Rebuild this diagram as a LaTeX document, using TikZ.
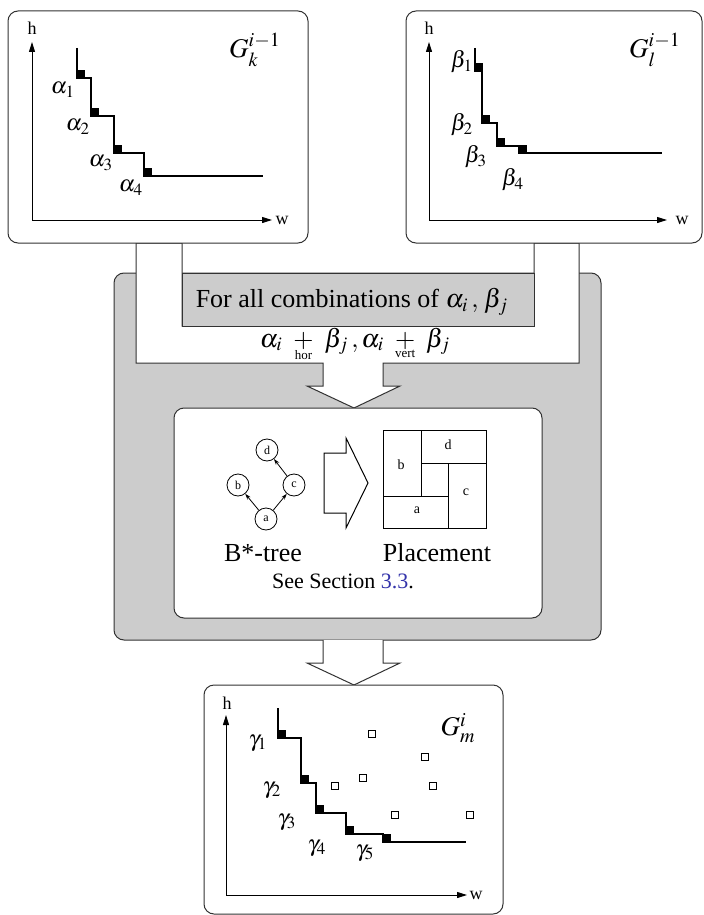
\documentclass[tikz,border=0pt]{standalone}
\usepackage{amsmath}
\usepackage{mathptmx}
\usepackage{fontspec}
\setmainfont{Liberation Serif}
\usetikzlibrary{arrows.meta,positioning}
\definecolor{grisfondo}{RGB}{204,204,204}
\definecolor{linea}{RGB}{50,50,50}
\definecolor{enlace}{RGB}{51,51,170}
\newcommand{\sobre}[1]{\mskip5mu\mathbin{\vtop{\offinterlineskip\halign{\hfil##\hfil\cr$+$\cr\noalign{\kern0.6pt}\fontsize{6.5}{6.5}\selectfont #1\cr}}}\mskip5mu}
\tikzset{
  caja/.style={draw=linea, line width=0.5pt, rounded corners=5pt, fill=white},
  eje/.style={draw=black, line width=0.5pt, -{Triangle[length=5pt,width=3pt]}},
  escalera/.style={draw=black, line width=0.6pt},
  hueco/.style={draw=black, line width=0.4pt, fill=white},
  etiq/.style={font=\fontsize{11.5}{13}\selectfont, inner sep=0pt},
  ejeletra/.style={font=\fontsize{9}{11}\selectfont, inner sep=0pt},
  titulo/.style={font=\fontsize{13.5}{15}\selectfont, inner sep=0pt},
  texto/.style={font=\fontsize{13}{15}\selectfont, inner sep=0pt},
  nodo/.style={circle, draw=black, line width=0.4pt, minimum size=11pt, inner sep=0pt, font=\fontsize{6}{7}\selectfont},
  bloque/.style={draw=black, line width=0.5pt},
  letra/.style={font=\fontsize{7}{8}\selectfont, inner sep=0pt},
}
\begin{document}
\begin{tikzpicture}[x=0.5pt,y=-0.5pt]
\useasboundingbox (0,0) rectangle (703,915);
%Caja gris central
\draw[caja, fill=grisfondo] (114,273) rectangle (601,640);
%Flecha grande
\draw[draw=linea, line width=0.5pt, fill=white] (136,243) -- (136,363) -- (323,363) -- (323,386) -- (307,386)
  -- (354,408) -- (400,386) -- (383,386) -- (383,363) -- (579,363) -- (579,243) -- (534,243)
  -- (534,326) -- (182,326) -- (182,243) -- cycle;
\draw[draw=linea, line width=0.5pt, fill=grisfondo] (182,273) rectangle (534,326);
\node[texto] (comb) at (352,302) {For all combinations of $\alpha_i\,,\,\beta_j$};
\node[texto, anchor=base] (suma) at (355,347) {$\alpha_i \sobre{hor} \beta_j\,, \alpha_i \sobre{vert} \beta_j$};
%Flecha inferior
\draw[draw=linea, line width=0.5pt, fill=white] (323,640) -- (323,663) -- (307,663) -- (354,685)
  -- (400,663) -- (383,663) -- (383,640);
%Caja blanca interior
\draw[caja] (174,408) rectangle (542,618);
\node[nodo] (d) at (267,450) {d};
\node[nodo] (b) at (238,485) {b};
\node[nodo] (c) at (294,485) {c};
\node[nodo] (a) at (266,519) {a};
\foreach \ini/\fin in {a/b, a/c, c/d}
  \draw[line width=0.4pt, -{Stealth[length=3pt,width=2pt]}] (\ini) -- (\fin);
\draw[bloque] (324,453) -- (346,453) -- (346,438) -- (368,483) -- (346,528) -- (346,513) -- (324,513) -- cycle;
\draw[bloque] (383,430) rectangle (486,528);
\draw[bloque] (421,430) -- (421,496);
\draw[bloque] (421,463) -- (486,463);
\draw[bloque] (448,463) -- (448,528);
\draw[bloque] (383,496) -- (448,496);
\node[letra] (pb) at (401,465) {b};
\node[letra] (pd) at (448,445) {d};
\node[letra] (pc) at (466,492) {c};
\node[letra] (pa) at (417,510) {a};
\node[texto] (arbol) at (263,553) {B*-tree};
\node[texto] (ubic) at (437,553) {Placement};
\node[font=\fontsize{11}{13}\selectfont, inner sep=0pt] (secc) at (343,581) {See Section \textcolor{enlace}{3.3}.};
%Caja superior izquierda
\draw[caja] (8,11) rectangle (308,243);
\coordinate (o1) at (32,220);
\coordinate (h1) at (32,42);
\coordinate (w1) at (272,220);
\draw[eje] (o1) -- (h1);
\draw[eje] (o1) -- (w1);
\node[ejeletra] (lh1) at (32,28) {h};
\node[ejeletra] (lw1) at (282,220) {w};
\node[titulo] (g1) at (255,50) {$G_k^{i-1}$};
\draw[escalera] (77,48) |- (91,78) |- (114,116) |- (144,153) |- (263,176);
\foreach \x/\y in {77/78, 91/116, 114/153, 144/176}
  \fill (\x,\y) rectangle ++(8,-8);
\foreach \x/\y/\n in {63/90/1, 78/127/2, 101/163/3, 131/188/4}
  \node[etiq] (alfa\n) at (\x,\y) {$\alpha_\n$};
%Caja superior derecha
\draw[caja] (406,11) rectangle (702,243);
\coordinate (o2) at (429,220);
\coordinate (h2) at (429,42);
\coordinate (w2) at (667,220);
\draw[eje] (o2) -- (h2);
\draw[eje] (o2) -- (w2);
\node[ejeletra] (lh2) at (429,28) {h};
\node[ejeletra] (lw2) at (682,220) {w};
\node[titulo] (g2) at (655,50) {$G_l^{i-1}$};
\draw[escalera] (475,48) |- (482,71) |- (497,123) |- (519,146) |- (662,153);
\foreach \x/\y in {475/71, 482/123, 497/146, 519/153}
  \fill (\x,\y) rectangle ++(8,-8);
\foreach \x/\y/\n in {462/62/1, 462/125/2, 476/157/3, 513/180/4}
  \node[etiq] (beta\n) at (\x,\y) {$\beta_\n$};
%Caja inferior
\draw[caja] (204,685) rectangle (503,914);
\coordinate (o3) at (226,895);
\coordinate (h3) at (226,715);
\coordinate (w3) at (467,895);
\draw[eje] (o3) -- (h3);
\draw[eje] (o3) -- (w3);
\node[ejeletra] (lh3) at (227,703) {h};
\node[ejeletra] (lw3) at (476,895) {w};
\node[titulo] (g3) at (458,728) {$G_m^i$};
\draw[escalera] (278,708) |- (301,738) |- (316,783) |- (346,813) |- (383,834) |- (466,842);
\foreach \x/\y in {278/738, 301/783, 316/813, 346/834, 383/842}
  \fill (\x,\y) rectangle ++(8,-8);
\foreach \x/\y/\n in {258/743/1, 272/790/2, 287/822/3, 317/848/4, 365/853/5}
  \node[etiq] (gama\n) at (\x,\y) {$\gamma_\n$};
\foreach \x/\y in {372/734, 425/757, 363/778, 335/786, 433/786, 395/815, 470/815}
  \draw[hueco] (\x-3.5,\y-3.5) rectangle (\x+3.5,\y+3.5);
\end{tikzpicture}
\end{document}
